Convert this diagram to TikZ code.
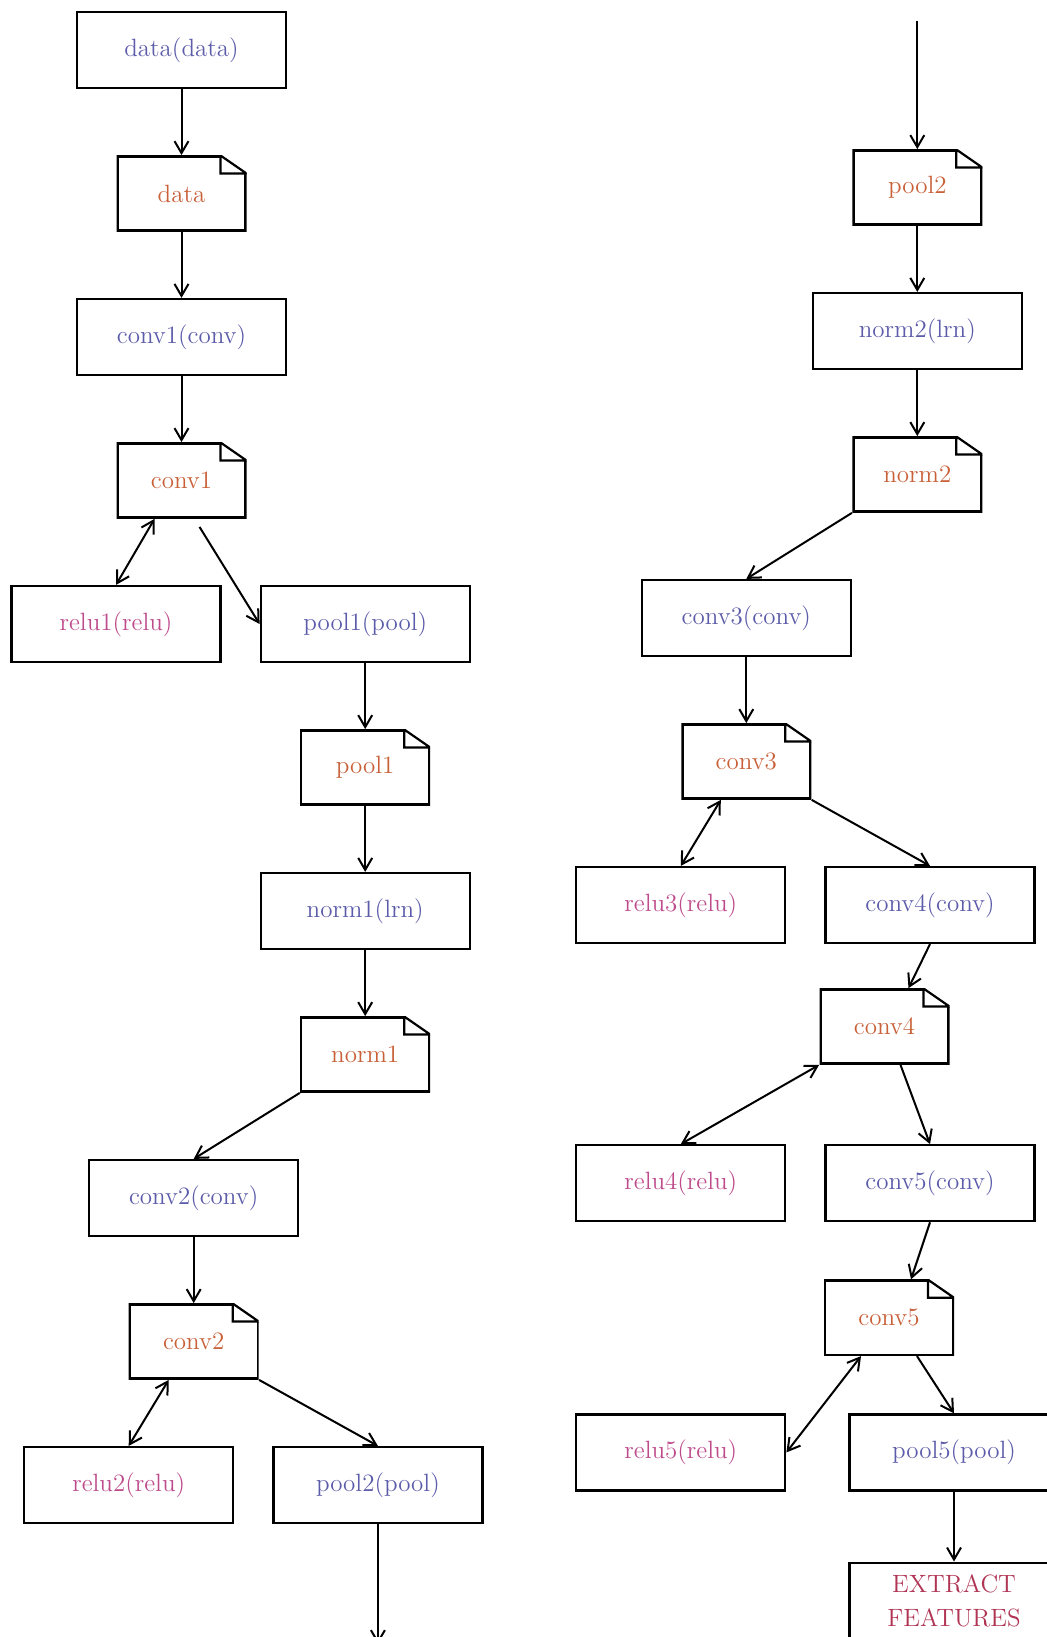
\documentclass[tikz,border=0pt]{standalone}
\usetikzlibrary{positioning,arrows.meta}
\definecolor{layercol}{RGB}{92,92,170}
\definecolor{blobcol}{RGB}{200,96,56}
\definecolor{relucol}{RGB}{190,76,140}
\definecolor{featcol}{RGB}{176,52,84}
\begin{document}
\begin{tikzpicture}[font={\fontsize{12.5}{15}\selectfont}, node distance=33pt,
    layer/.style={draw, line width=1.1pt, rectangle, minimum width=104.5pt, minimum height=38pt, text=layercol},
    relu/.style={layer, text=relucol},
    blob/.style={rectangle, minimum width=65pt, minimum height=38pt, text=blobcol,
        path picture={
            \draw [line width=2.2pt] ([xshift=-13pt]path picture bounding box.north east)
                -- (path picture bounding box.north west) -- (path picture bounding box.south west)
                -- (path picture bounding box.south east) -- ([yshift=-9pt]path picture bounding box.north east);
            \draw [line width=1.1pt] ([yshift=-9pt]path picture bounding box.north east)
                -- ([xshift=-13pt]path picture bounding box.north east)
                |- ([yshift=-9pt]path picture bounding box.north east);}},
    flow/.style={-{Straight Barb[length=6pt,width=7pt]}, line width=1pt},
    flowboth/.style={{Straight Barb[length=6pt,width=7pt]}-{Straight Barb[length=6pt,width=7pt]}, line width=1pt}]
    \useasboundingbox (0,0) rectangle (523.5pt,-818.5pt);

    % left column
    \node [layer] (data_l) at (90.75pt,-25pt) {data(data)};
    \node [blob, below=of data_l] (data_b) {data};
    \node [layer, below=of data_b] (conv1_l) {conv1(conv)};
    \node [blob, below=of conv1_l] (conv1_b) {conv1};
    \node [relu, below=of conv1_b, xshift=-32.75pt] (relu1_l) {relu1(relu)};
    \node [layer, right=19pt of relu1_l] (pool1_l) {pool1(pool)};
    \node [blob, below=of pool1_l] (pool1_b) {pool1};
    \node [layer, below=of pool1_b] (norm1_l) {norm1(lrn)};
    \node [blob, below=of norm1_l] (norm1_b) {norm1};
    \node [layer, below=of norm1_b, xshift=-85.75pt] (conv2_l) {conv2(conv)};
    \node [blob, below=of conv2_l] (conv2_b) {conv2};
    \node [relu, below=of conv2_b, xshift=-32.5pt] (relu2_l) {relu2(relu)};
    \node [layer, right=19pt of relu2_l] (pool2_l) {pool2(pool)};
    \coordinate [below=60pt of pool2_l] (out_l);

    \draw [flow] (data_l) -- (data_b);
    \draw [flow] (data_b) -- (conv1_l);
    \draw [flow] (conv1_l) -- (conv1_b);
    \draw [flowboth] ([xshift=-13.5pt]conv1_b.south) -- (relu1_l.north);
    \draw [flow] ([xshift=9pt,yshift=-4pt]conv1_b.south) -- (pool1_l.west);
    \draw [flow] (pool1_l) -- (pool1_b);
    \draw [flow] (pool1_b) -- (norm1_l);
    \draw [flow] (norm1_l) -- (norm1_b);
    \draw [flow] (norm1_b.south west) -- (conv2_l.north);
    \draw [flow] (conv2_l) -- (conv2_b);
    \draw [flowboth] ([xshift=-12.5pt]conv2_b.south) -- (relu2_l.north);
    \draw [flow] (conv2_b.south east) -- (pool2_l.north);
    \draw [flow] (pool2_l) -- (out_l);

    % right column
    \node [blob, right=302.5pt of data_b, yshift=3pt] (pool2_b) {pool2};
    \coordinate [above=64pt of pool2_b] (in_r);
    \node [layer, below=of pool2_b] (norm2_l) {norm2(lrn)};
    \node [blob, below=of norm2_l] (norm2_b) {norm2};
    \node [layer, below=of norm2_b, xshift=-85.5pt] (conv3_l) {conv3(conv)};
    \node [blob, below=of conv3_l] (conv3_b) {conv3};
    \node [relu, below=of conv3_b, xshift=-32.75pt] (relu3_l) {relu3(relu)};
    \node [layer, right=19pt of relu3_l] (conv4_l) {conv4(conv)};
    \node [blob, below=22pt of conv4_l, xshift=-22.75pt] (conv4_b) {conv4};
    \node [relu, below=100pt of relu3_l] (relu4_l) {relu4(relu)};
    \node [layer, right=19pt of relu4_l] (conv5_l) {conv5(conv)};
    \node [blob, below=28.5pt of conv5_l, xshift=-20.5pt] (conv5_b) {conv5};
    \node [relu, below=95.5pt of relu4_l] (relu5_l) {relu5(relu)};
    \node [layer, right=31pt of relu5_l] (pool5_l) {pool5(pool)};
    \node [layer, below=35pt of pool5_l, text=featcol, align=center, minimum height=38pt,
        font={\fontsize{12.5}{17}\selectfont}] (feat) {EXTRACT\\FEATURES};

    \draw [flow] (in_r) -- (pool2_b);
    \draw [flow] (pool2_b) -- (norm2_l);
    \draw [flow] (norm2_l) -- (norm2_b);
    \draw [flow] (norm2_b.south west) -- (conv3_l.north);
    \draw [flow] (conv3_l) -- (conv3_b);
    \draw [flowboth] ([xshift=-12.75pt]conv3_b.south) -- (relu3_l.north);
    \draw [flow] (conv3_b.south east) -- (conv4_l.north);
    \draw [flow] (conv4_l.south) -- ([xshift=12pt]conv4_b.north);
    \draw [flowboth] (conv4_b.south west) -- (relu4_l.north);
    \draw [flow] ([xshift=8pt]conv4_b.south) -- (conv5_l.north);
    \draw [flow] (conv5_l.south) -- ([xshift=11pt]conv5_b.north);
    \draw [flowboth] ([xshift=-14pt]conv5_b.south) -- (relu5_l.east);
    \draw [flow] ([xshift=14pt]conv5_b.south) -- (pool5_l.north);
    \draw [flow] (pool5_l) -- (feat);
\end{tikzpicture}
\end{document}
